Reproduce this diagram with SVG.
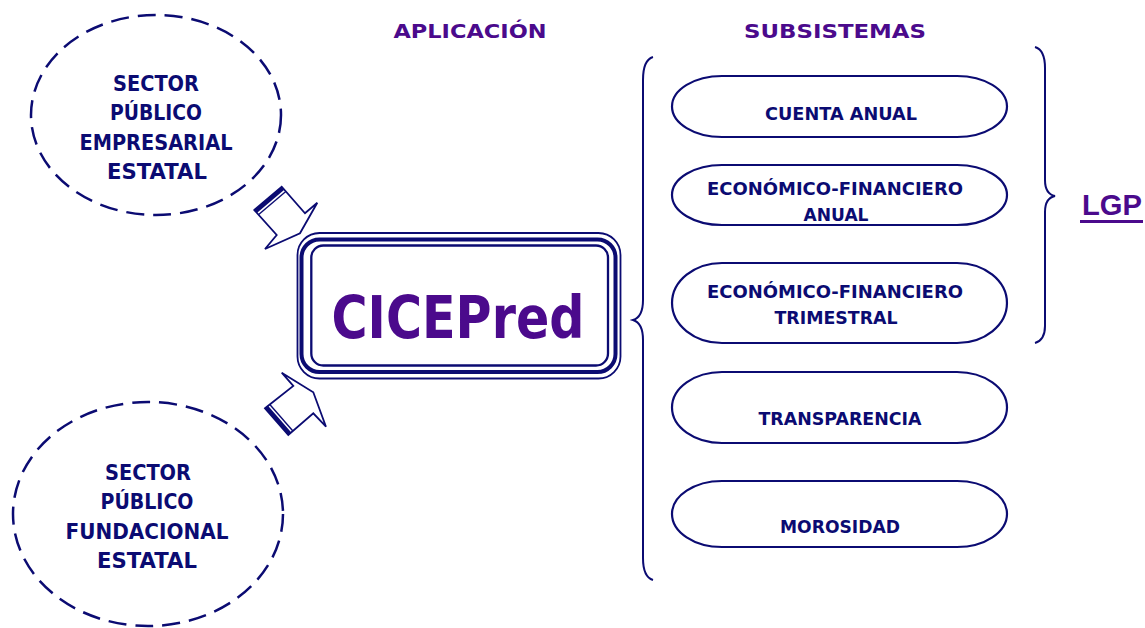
<svg xmlns="http://www.w3.org/2000/svg" width="1145" height="628" viewBox="0 0 1145 628">
  <style>
    .node-text { font-family: "Comic Sans MS", "DejaVu Sans", sans-serif; font-weight: bold; fill: #0b0b72; text-anchor: middle; }
    .hdr { font-family: "Comic Sans MS", "DejaVu Sans", sans-serif; font-weight: bold; fill: #4b0a8c; text-anchor: middle; }
    .dashed { fill: none; stroke: #0b0b72; stroke-width: 2.5; stroke-dasharray: 18 9; }
    .pill { fill: #fff; stroke: #0b0b72; stroke-width: 2.2; }
    .brace { fill: none; stroke: #0b0b72; stroke-width: 2; }
    .arrow { fill: #fff; stroke: #0b0b72; stroke-width: 1.8; stroke-linejoin: miter; }
    .frame { fill: none; stroke: #0b0b72; }
  </style>
  <rect width="1145" height="628" fill="#ffffff"/>

  <text class="hdr" x="470" y="38" font-size="20" textLength="153" lengthAdjust="spacingAndGlyphs">APLICACIÓN</text>
  <text class="hdr" x="835" y="38" font-size="20" textLength="182" lengthAdjust="spacingAndGlyphs">SUBSISTEMAS</text>

  <g id="node-empresarial">
    <ellipse class="dashed" cx="156" cy="115" rx="125" ry="100"/>
    <text class="node-text" font-size="21" x="156" y="91" textLength="86" lengthAdjust="spacingAndGlyphs">SECTOR</text>
    <text class="node-text" font-size="21" x="156" y="120" textLength="92" lengthAdjust="spacingAndGlyphs">PÚBLICO</text>
    <text class="node-text" font-size="21" x="156" y="150" textLength="153" lengthAdjust="spacingAndGlyphs">EMPRESARIAL</text>
    <text class="node-text" font-size="21" x="157" y="179" textLength="100" lengthAdjust="spacingAndGlyphs">ESTATAL</text>
  </g>

  <g id="node-fundacional">
    <ellipse class="dashed" cx="148" cy="514" rx="135" ry="112"/>
    <text class="node-text" font-size="21" x="148" y="480" textLength="86" lengthAdjust="spacingAndGlyphs">SECTOR</text>
    <text class="node-text" font-size="21" x="147" y="509" textLength="93" lengthAdjust="spacingAndGlyphs">PÚBLICO</text>
    <text class="node-text" font-size="21" x="147" y="539" textLength="163" lengthAdjust="spacingAndGlyphs">FUNDACIONAL</text>
    <text class="node-text" font-size="21" x="147" y="568" textLength="100" lengthAdjust="spacingAndGlyphs">ESTATAL</text>
  </g>

  <g id="connectors">
    <g id="arrow-top">
      <polygon class="arrow" points="254.3,210 281.7,186.7 305,213.3 317.3,202.7 300,233.3 265,249 276.7,235"/>
      <line x1="255.6" y1="211.5" x2="283" y2="188.2" stroke="#0b0b72" stroke-width="4"/>
      <line x1="258.4" y1="214.8" x2="285.8" y2="191.5" stroke="#0b0b72" stroke-width="1.4"/>
    </g>
    <g id="arrow-bottom">
      <polygon class="arrow" points="265,408.3 293.3,386 281.7,372.7 313.3,392.3 326,426.7 313.3,413.3 288.3,435"/>
      <line x1="266.5" y1="407" x2="289.8" y2="433.7" stroke="#0b0b72" stroke-width="4"/>
      <line x1="269.6" y1="404.3" x2="292.9" y2="431" stroke="#0b0b72" stroke-width="1.4"/>
    </g>
    <path class="brace" d="M653,57 Q643,60 643,80 L643,300 Q643,317 633,320 Q643,323 643,340 L643,558 Q643,577 653,580"/>
    <path class="brace" d="M1035,47 Q1045,50 1045,68 L1045,180 Q1045,194 1055,196 Q1045,198 1045,212 L1045,326 Q1045,340 1035,343"/>
  </g>

  <g id="node-cicepred">
    <rect class="frame" x="297.5" y="233" width="323" height="145.5" rx="22" stroke-width="1.8"/>
    <rect class="frame" x="301.5" y="239.5" width="314" height="132.5" rx="18" stroke-width="4"/>
    <rect class="frame" x="311.3" y="245.5" width="296.7" height="120" rx="12" stroke-width="2.3"/>
    <text class="hdr" x="458" y="338" font-size="58" textLength="253" lengthAdjust="spacingAndGlyphs">CICEPred</text>
  </g>

  <g id="node-cuenta-anual">
    <path class="pill" d="M722,76 H957 A50 30.5 0 0 1 957,137 H722 A50 30.5 0 0 1 722,76 Z"/>
    <text class="node-text" font-size="17.5" x="841" y="120" textLength="152" lengthAdjust="spacingAndGlyphs">CUENTA ANUAL</text>
  </g>

  <g id="node-ef-anual">
    <path class="pill" d="M722,165 H957 A50 30 0 0 1 957,225 H722 A50 30 0 0 1 722,165 Z"/>
    <text class="node-text" font-size="17.5" x="835" y="195" textLength="256" lengthAdjust="spacingAndGlyphs">ECONÓMICO-FINANCIERO</text>
    <text class="node-text" font-size="17.5" x="836" y="221" textLength="65" lengthAdjust="spacingAndGlyphs">ANUAL</text>
  </g>

  <g id="node-ef-trimestral">
    <path class="pill" d="M722,263 H957 A50 40 0 0 1 957,343 H722 A50 40 0 0 1 722,263 Z"/>
    <text class="node-text" font-size="17.5" x="835" y="298" textLength="256" lengthAdjust="spacingAndGlyphs">ECONÓMICO-FINANCIERO</text>
    <text class="node-text" font-size="17.5" x="836" y="324" textLength="123" lengthAdjust="spacingAndGlyphs">TRIMESTRAL</text>
  </g>

  <g id="node-transparencia">
    <path class="pill" d="M722,372 H957 A50 35.5 0 0 1 957,443 H722 A50 35.5 0 0 1 722,372 Z"/>
    <text class="node-text" font-size="17.5" x="840" y="425" textLength="163" lengthAdjust="spacingAndGlyphs">TRANSPARENCIA</text>
  </g>

  <g id="node-morosidad">
    <path class="pill" d="M722,481 H957 A50 33 0 0 1 957,547 H722 A50 33 0 0 1 722,481 Z"/>
    <text class="node-text" font-size="17.5" x="840" y="533" textLength="120" lengthAdjust="spacingAndGlyphs">MOROSIDAD</text>
  </g>

  <g id="node-lgp">
    <text x="1112" y="215" font-family="'Liberation Sans', Arial, sans-serif" font-weight="bold" font-size="30" fill="#4b0a8c" text-anchor="middle" textLength="60" lengthAdjust="spacingAndGlyphs">LGP</text>
    <rect x="1080" y="220" width="63" height="3" fill="#4b0a8c"/>
  </g>
</svg>
